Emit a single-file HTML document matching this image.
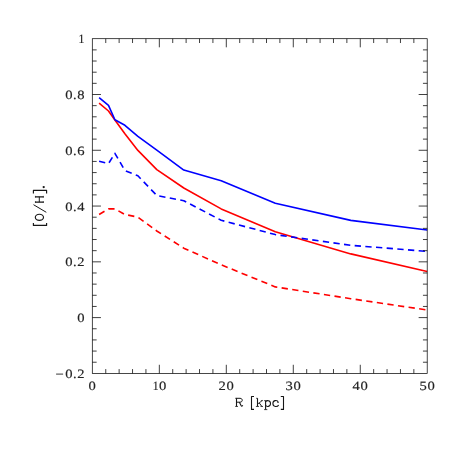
<!DOCTYPE html>
<html><head><meta charset="utf-8"><title>plot</title>
<style>
html,body{margin:0;padding:0;background:#fff;}
body{width:458px;height:458px;overflow:hidden;}
svg{display:block;}
text{text-rendering:geometricPrecision;font-family:"Liberation Serif",serif;font-size:12.7px;fill:#222;letter-spacing:0.5px;stroke:#222;stroke-width:0.15px;}
text.g{font-size:20px;letter-spacing:0;stroke-width:0.25px;}
</style></head><body>
<svg width="458" height="458" viewBox="0 0 458 458">
<rect width="458" height="458" fill="#fff"/>
<g><polyline points="99.1,103.2 108.5,111.0 114.9,120.0 124.9,133.7 137.9,150.4 156.8,169.6 183.8,188.0 221.2,208.9 275.3,231.7 350.8,253.9 427.2,271.5" fill="none" stroke="#ff0000" stroke-width="1.60" stroke-linejoin="round"/>
<polyline points="99.1,214.5 108.5,208.9 114.9,208.9 124.9,214.5 137.9,217.1 156.8,231.0 183.8,248.2 221.2,264.8 275.3,286.9 350.8,298.7 427.2,310.0" fill="none" stroke="#ff0000" stroke-width="1.60" stroke-dasharray="6.3 4.4" stroke-linejoin="round"/>
<polyline points="99.1,97.7 108.5,105.4 114.9,119.8 124.9,125.3 137.9,136.4 156.8,150.1 183.8,170.1 221.2,180.8 275.3,203.3 350.8,220.4 427.2,230.0" fill="none" stroke="#0000ff" stroke-width="1.60" stroke-linejoin="round"/>
<polyline points="99.1,161.3 108.5,163.6 114.9,153.3 124.9,170.6 137.9,175.8 156.8,195.5 183.8,200.7 221.2,220.3 275.3,234.6 350.8,245.3 427.2,251.4" fill="none" stroke="#0000ff" stroke-width="1.60" stroke-dasharray="6.3 4.4" stroke-linejoin="round"/></g>
<g shape-rendering="auto"><rect x="92.3" y="38.7" width="334.9" height="334.7" fill="none" stroke="#000" stroke-width="0.72"/>
<path d="M105.75 373.38V369.08M105.75 38.72V43.02M119.14 373.38V369.08M119.14 38.72V43.02M132.54 373.38V369.08M132.54 38.72V43.02M145.93 373.38V369.08M145.93 38.72V43.02M159.33 373.38V364.78M159.33 38.72V47.32M172.73 373.38V369.08M172.73 38.72V43.02M186.12 373.38V369.08M186.12 38.72V43.02M199.52 373.38V369.08M199.52 38.72V43.02M212.91 373.38V369.08M212.91 38.72V43.02M226.31 373.38V364.78M226.31 38.72V47.32M239.71 373.38V369.08M239.71 38.72V43.02M253.10 373.38V369.08M253.10 38.72V43.02M266.50 373.38V369.08M266.50 38.72V43.02M279.89 373.38V369.08M279.89 38.72V43.02M293.29 373.38V364.78M293.29 38.72V47.32M306.69 373.38V369.08M306.69 38.72V43.02M320.08 373.38V369.08M320.08 38.72V43.02M333.48 373.38V369.08M333.48 38.72V43.02M346.87 373.38V369.08M346.87 38.72V43.02M360.27 373.38V364.78M360.27 38.72V47.32M373.67 373.38V369.08M373.67 38.72V43.02M387.06 373.38V369.08M387.06 38.72V43.02M400.46 373.38V369.08M400.46 38.72V43.02M413.85 373.38V369.08M413.85 38.72V43.02M92.35 362.22H96.65M427.25 362.22H422.95M92.35 351.07H96.65M427.25 351.07H422.95M92.35 339.91H96.65M427.25 339.91H422.95M92.35 328.76H96.65M427.25 328.76H422.95M92.35 317.60H100.95M427.25 317.60H418.65M92.35 306.45H96.65M427.25 306.45H422.95M92.35 295.29H96.65M427.25 295.29H422.95M92.35 284.14H96.65M427.25 284.14H422.95M92.35 272.98H96.65M427.25 272.98H422.95M92.35 261.83H100.95M427.25 261.83H418.65M92.35 250.67H96.65M427.25 250.67H422.95M92.35 239.52H96.65M427.25 239.52H422.95M92.35 228.36H96.65M427.25 228.36H422.95M92.35 217.21H96.65M427.25 217.21H422.95M92.35 206.05H100.95M427.25 206.05H418.65M92.35 194.89H96.65M427.25 194.89H422.95M92.35 183.74H96.65M427.25 183.74H422.95M92.35 172.58H96.65M427.25 172.58H422.95M92.35 161.43H96.65M427.25 161.43H422.95M92.35 150.27H100.95M427.25 150.27H418.65M92.35 139.12H96.65M427.25 139.12H422.95M92.35 127.96H96.65M427.25 127.96H422.95M92.35 116.81H96.65M427.25 116.81H422.95M92.35 105.65H96.65M427.25 105.65H422.95M92.35 94.50H100.95M427.25 94.50H418.65M92.35 83.34H96.65M427.25 83.34H422.95M92.35 72.19H96.65M427.25 72.19H422.95M92.35 61.03H96.65M427.25 61.03H422.95M92.35 49.88H96.65M427.25 49.88H422.95" fill="none" stroke="#000" stroke-width="0.75"/></g>
<g style="will-change:transform"><text transform="translate(92.50,389.8) scale(1.150,1)" text-anchor="middle">0</text>
<text transform="translate(226.46,389.8) scale(1.150,1)" text-anchor="middle">20</text>
<text transform="translate(293.44,389.8) scale(1.150,1)" text-anchor="middle">30</text>
<text transform="translate(360.42,389.8) scale(1.150,1)" text-anchor="middle">40</text>
<text transform="translate(427.40,389.8) scale(1.150,1)" text-anchor="middle">50</text>
<text transform="translate(152.7,389.8) scale(0.92,1)">1</text>
<text transform="translate(159.1,389.8) scale(1.150,1)">0</text>
<text transform="translate(85.1,322.25) scale(1.150,1)" text-anchor="end">0</text>
<text transform="translate(85.1,266.48) scale(1.150,1)" text-anchor="end">0.2</text>
<text transform="translate(85.1,210.70) scale(1.150,1)" text-anchor="end">0.4</text>
<text transform="translate(85.1,154.92) scale(1.150,1)" text-anchor="end">0.6</text>
<text transform="translate(85.1,99.15) scale(1.150,1)" text-anchor="end">0.8</text>
<text transform="translate(85.1,378.03) scale(1.150,1)" text-anchor="end">0.2</text>
<text transform="translate(78.4,43.37) scale(0.92,1)">1</text>
<path d="M56.1 374.1H63.1" stroke="#222" stroke-width="0.9" fill="none"/>
<g fill="none" stroke="#161616" stroke-linejoin="round" stroke-linecap="butt"><path d="M236.5 398.2V406.4" stroke-width="1.10" />
<path d="M235.2 398.3H237M235.2 406.45H238.0" stroke-width="0.80" />
<path d="M236.5 398.3H240.0C243.0 398.3 243.0 402.2 240.0 402.2H236.5" stroke-width="1.00" />
<path d="M239.4 402.2L241.2 405.7Q241.8 406.9 242.8 405.3" stroke-width="1.10" />
<path d="M254.0 396.5H251.5V409.4H254.0" stroke-width="1.10" />
<path d="M257.5 398.2V406.4" stroke-width="1.10" />
<path d="M256.1 398.3H257.5M255.9 406.45H259.0" stroke-width="0.80" />
<path d="M257.7 404.0L262.2 400.6" stroke-width="0.85" />
<path d="M260.9 400.6H263.0" stroke-width="0.70" />
<path d="M259.2 402.9L261.8 406.4" stroke-width="1.00" />
<path d="M260.5 406.45H263.0" stroke-width="0.80" />
<path d="M265.6 400.6V409.6" stroke-width="1.10" />
<path d="M264.1 400.65H265.6M264.1 409.6H267.3" stroke-width="0.80" />
<path d="M265.6 401.8C266.5 400.2 270.5 399.9 270.5 403.5C270.5 407.1 266.5 406.9 265.6 405.3" stroke-width="1.08" />
<path d="M278.3 402.3C277.5 399.9 272.9 399.8 272.9 403.5C272.9 407.3 277.6 407.0 278.6 404.9" stroke-width="1.08" />
<circle cx="278.0" cy="402.3" r="0.65" fill="#161616" stroke="none"/>
<path d="M280.8 396.5H283.5V409.4H280.8" stroke-width="1.10" />
<path d="M33.4 222.9V225.4H46.6V222.9" stroke-width="1.15" />
<ellipse cx="39.4" cy="217.3" rx="4.1" ry="3.1" stroke-width="1.15"/>
<path d="M46.3 212.3L33.5 204.7" stroke-width="1.00" />
<path d="M35.4 196.8H43.4M35.4 202.1H43.4" stroke-width="1.20" />
<path d="M39.3 196.8V202.1" stroke-width="0.95" />
<path d="M35.45 195.9V197.7M43.35 195.9V197.7M35.45 201.2V203.0M43.35 201.2V203.0" stroke-width="0.80" />
<path d="M33.4 193.5V190.4H46.6V193.5" stroke-width="1.15" />
<circle cx="43.7" cy="187.1" r="1.15" fill="#161616" stroke="none"/></g></g>
</svg>
</body></html>
